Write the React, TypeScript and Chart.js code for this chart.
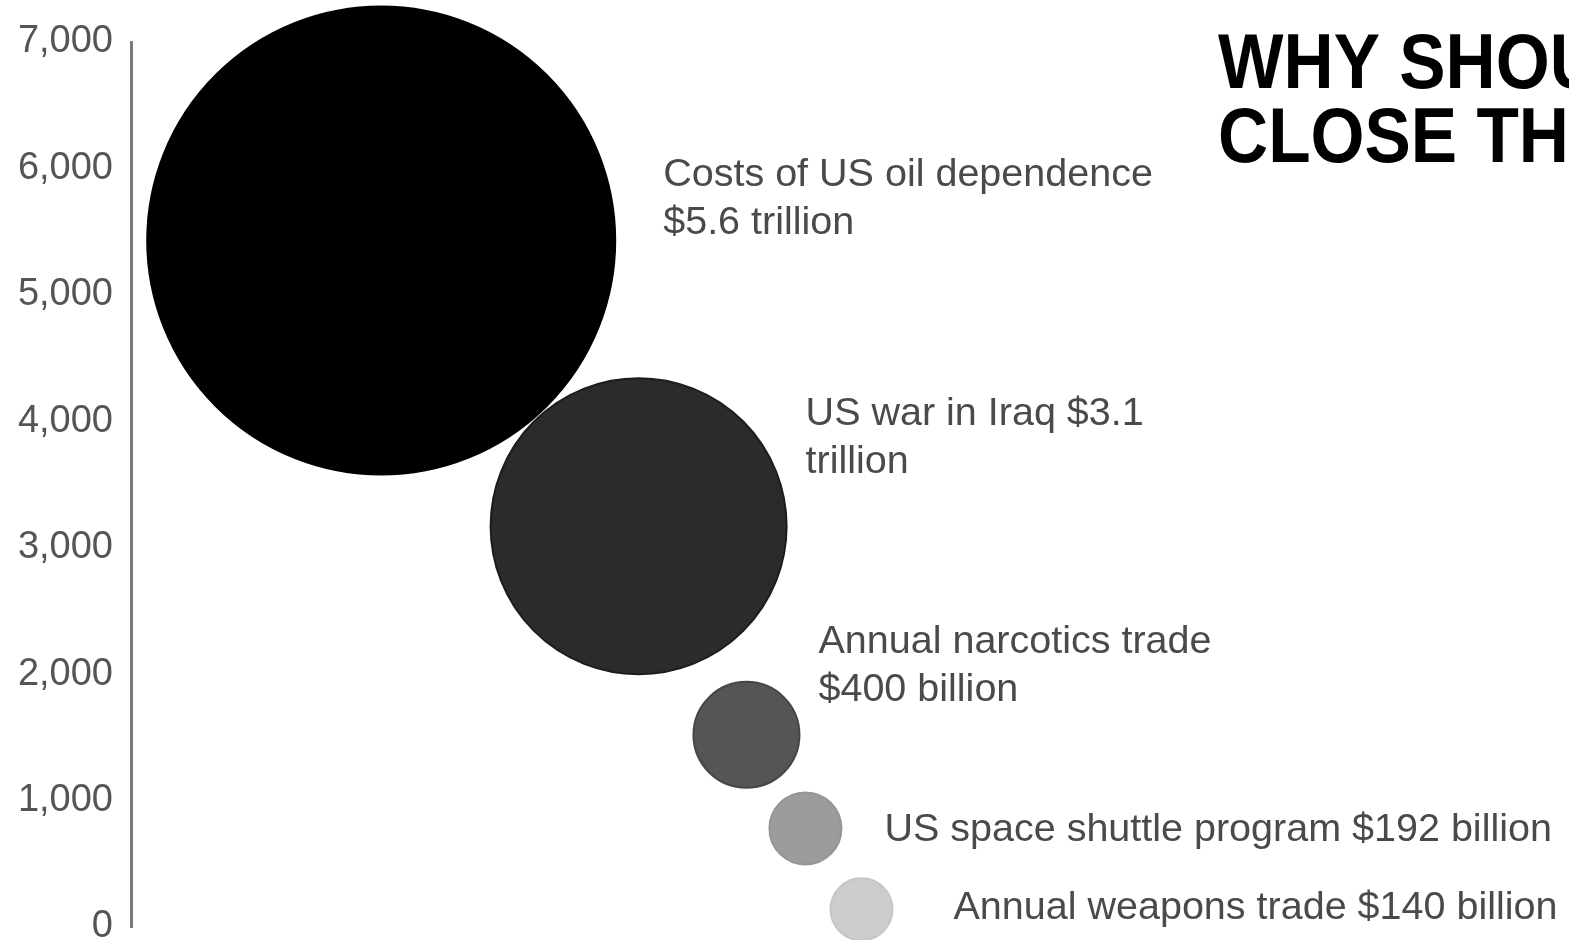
import React, { useEffect, useRef } from "react";
import { Chart, registerables } from "chart.js";

Chart.register(...registerables);

// ---- data ----
const categories = [
  "Costs of US oil dependence",
  "US war in Iraq",
  "Annual narcotics trade",
  "US space shuttle program",
  "Annual weapons trade",
];
const labelLines: string[][] = [
  ["Costs of US oil dependence", "$5.6 trillion"],
  ["US war in Iraq $3.1", "trillion"],
  ["Annual narcotics trade", "$400 billion"],
  ["US space shuttle program $192 billion"],
  ["Annual weapons trade $140 billion"],
];
const xValues = [17.4, 35.3, 42.8, 46.9, 50.8];
const yValues = [5430, 3170, 1520, 780, 140];
const bubbleRadius = [234, 148, 53, 36, 31];
const yTicks = [0, 1000, 2000, 3000, 4000, 5000, 6000, 7000];
const titleLines = ["WHY SHOULD WE", "CLOSE THE"];

// ---- styles ----
const fillColors = ["#000000", "#2b2b2b", "#555555", "#9c9c9c", "#cccccc"];
const borderColors = ["#000000", "#1c1c1c", "#464646", "#959595", "#c6c6c6"];
// label offsets relative to bubble centre (px)
const labelOffsets = [
  { dx: 282, dy: -65 },
  { dx: 167, dy: -112 },
  { dx: 72, dy: -93 },
  { dx: 79, dy: 2 },
  { dx: 92, dy: -1 },
];

const FONT = '"Liberation Sans", Arial, sans-serif';

const labelPlugin = {
  id: "bubbleLabels",
  afterDatasetsDraw(chart: any) {
    const ctx = chart.ctx;
    const meta = chart.getDatasetMeta(0);
    ctx.save();
    ctx.fillStyle = "#4a4a4a";
    ctx.font = `39.5px ${FONT}`;
    ctx.textAlign = "left";
    ctx.textBaseline = "middle";
    meta.data.forEach((el: any, i: number) => {
      const off = labelOffsets[i];
      labelLines[i].forEach((line, j) => {
        ctx.fillText(line, el.x + off.dx, el.y + off.dy + j * 48);
      });
    });
    ctx.restore();
    // title
    ctx.save();
    ctx.fillStyle = "#000000";
    ctx.font = `bold 78px ${FONT}`;
    ctx.textAlign = "left";
    ctx.textBaseline = "alphabetic";
    ctx.translate(1218, 0);
    ctx.scale(0.89, 1);
    titleLines.forEach((t, j) => ctx.fillText(t, 0, 88 + j * 74));
    ctx.restore();
  },
};

export default function App() {
  const ref = useRef<HTMLCanvasElement>(null);
  useEffect(() => {
    if (!ref.current) return;
    const chart = new Chart(ref.current, {
      type: "bubble",
      data: {
        labels: categories,
        datasets: [
          {
            label: "Costs",
            data: xValues.map((x, i) => ({ x, y: yValues[i], r: bubbleRadius[i] })),
            backgroundColor: fillColors,
            borderColor: borderColors,
            borderWidth: 2,
            clip: false as any,
          },
        ],
      },
      options: {
        animation: false,
        responsive: false,
        events: [],
        layout: { padding: { top: 42, bottom: 13, left: 0, right: 0 }, autoPadding: false },
        plugins: { legend: { display: false }, tooltip: { enabled: false } },
        scales: {
          x: { type: "linear", min: 0, max: 100, display: false },
          y: {
            type: "linear",
            min: 0,
            max: 7000,
            afterFit: (scale: any) => {
              scale.width = 131;
              scale.paddingTop = 0;
              scale.paddingBottom = 0;
            },
            afterBuildTicks: (scale: any) => {
              scale.ticks = yTicks.map((v) => ({ value: v }));
            },
            grid: { display: false, drawTicks: false },
            border: { display: true, color: "#7a7a7a", width: 3 },
            ticks: {
              padding: 18,
              color: "#555555",
              font: { family: FONT, size: 38 },
              callback: (v: any) => Number(v).toLocaleString("en-US"),
            },
          },
        },
      },
      plugins: [labelPlugin],
    });
    return () => chart.destroy();
  }, []);
  return (
    <div style={{ position: "fixed", left: 0, top: 0, width: 1569, height: 940, overflow: "hidden", background: "#fff" }}>
      <canvas ref={ref} width={1569} height={940} style={{ display: "block" }} />
    </div>
  );
}
